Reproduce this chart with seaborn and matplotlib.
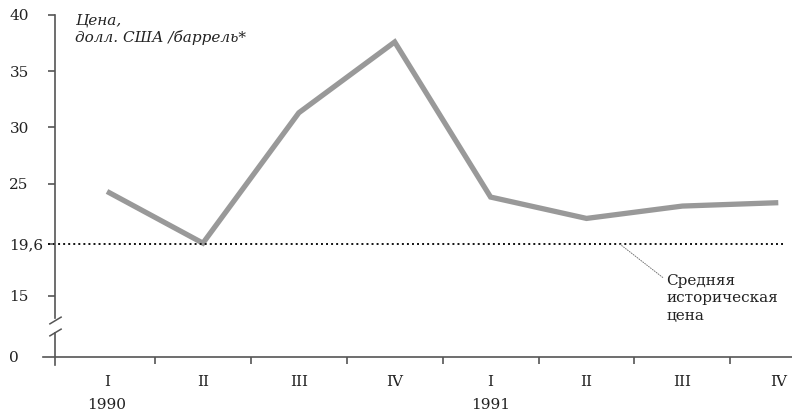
import numpy as np
import pandas as pd
import seaborn as sns
import matplotlib
matplotlib.use('Agg')
import matplotlib.pyplot as plt

# Chart data
quarters = ['I', 'II', 'III', 'IV', 'I', 'II', 'III', 'IV']
years = ['1990', '1991']
year_pos = [0, 4]
price = [24.3, 19.7, 31.3, 37.6, 23.8, 21.9, 23.0, 23.3]
avg_price = 19.6
yticks = [15, 19.6, 25, 30, 35, 40]
ytick_labels = ['15', '19,6', '25', '30', '35', '40']

df = pd.DataFrame({'x': np.arange(len(price)), 'price': price})

sns.set_style('white')
plt.rcParams['font.family'] = ['DejaVu Serif']
plt.rcParams['font.size'] = 11
txt = '#222222'
spine_c = '#555555'

fig = plt.figure(figsize=(7.92, 4.15), dpi=100)
xlim = (-1.116, 7.143)
yax_x = -0.54

# upper part of the broken axis
ax = fig.add_axes([0, 1 - 318 / 415, 1, (318 - 15) / 415])
# lower part (just zero)
axb = fig.add_axes([0, 1 - 365 / 415, 1, 32 / 415])

sns.lineplot(data=df, x='x', y='price', ax=ax, color='#999999', linewidth=3.8,
             solid_joinstyle='miter', solid_capstyle='butt')
ax.set_xlim(*xlim)
ax.set_ylim(13.04, 40)
for s in ['top', 'right', 'bottom']:
    ax.spines[s].set_visible(False)
ax.spines['left'].set_position(('data', yax_x))
ax.spines['left'].set_color(spine_c)
ax.spines['left'].set_linewidth(1.2)
ax.set_xticks([])
ax.set_xlabel('')
ax.set_ylabel('')
ax.set_yticks(yticks)
ax.set_yticklabels(ytick_labels)
ax.tick_params(axis='y', left=True, direction='out', length=5, width=1.2, color=spine_c,
               pad=28, labelcolor=txt)
for lab in ax.get_yticklabels():
    lab.set_ha('left')

# average line
ax.hlines(avg_price, -0.62, 7.07, colors='#111111', linestyles=(0, (1, 1.6)), linewidth=1.4)
ax.annotate('Средняя\nисторическая\nцена', xy=(5.35, avg_price), xytext=(5.83, 16.95),
            ha='left', va='top', color=txt, linespacing=1.3, annotation_clip=False,
            arrowprops=dict(arrowstyle='-', color='#777777', linestyle=(0, (1, 1.5)),
                            linewidth=0.7, shrinkA=0, shrinkB=0,
                            relpos=(-0.03, 0.93)))

ax.text(-0.33, 40.1, 'Цена,\nдолл. США /баррель*', style='italic', ha='left', va='top',
        color=txt, linespacing=1.15)

# bottom axes
axb.set_xlim(*xlim)
axb.set_ylim(-1, 3)
for s in ['top', 'right']:
    axb.spines[s].set_visible(False)
axb.spines['bottom'].set_position(('data', 0))
axb.spines['bottom'].set_bounds(-0.67, xlim[1])
axb.spines['left'].set_position(('data', yax_x))
for s in ['left', 'bottom']:
    axb.spines[s].set_color(spine_c)
    axb.spines[s].set_linewidth(1.2)
axb.set_yticks([0])
axb.set_yticklabels(['0'])
axb.tick_params(axis='y', length=0, pad=33, labelcolor=txt)
for lab in axb.get_yticklabels():
    lab.set_ha('left')
axb.set_xticks(np.arange(0.5, 7, 1))
axb.set_xticklabels([])
axb.set_xticks(np.arange(len(quarters)), minor=True)
axb.set_xticklabels(quarters, minor=True)
axb.tick_params(axis='x', which='major', bottom=True, direction='out', length=5, width=1.2,
                color=spine_c)
axb.tick_params(axis='x', which='minor', bottom=True, length=0, pad=13, labelcolor=txt)
for xp, yr in zip(year_pos, years):
    axb.annotate(yr, xy=(xp, -1), xytext=(0, -24), textcoords='offset points',
                 ha='center', va='top', color=txt, annotation_clip=False)

# break marks
brk = dict(marker=[(-1, -0.6), (1, 0.6)], markersize=9, linestyle='none',
           color=spine_c, mec=spine_c, mew=1.1, clip_on=False)
ax.plot([yax_x], [12.9], **brk)
axb.plot([yax_x], [3.1], **brk)

fig.savefig('out.png', dpi=100)
